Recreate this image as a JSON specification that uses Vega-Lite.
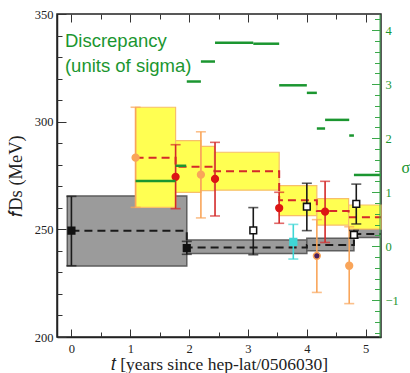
{
  "$schema": "https://vega.github.io/schema/vega-lite/v6.json",
  "width": 324,
  "height": 323,
  "autosize": {"type": "none"},
  "padding": {"left": 57, "top": 14, "right": 29, "bottom": 36},
  "config": {"view": {"stroke": "#222", "strokeWidth": 1.5}, "axis": {"grid": false}},
  "datasets": {
    "gray": [
      {"t0": -0.07, "t1": 1.96, "lo": 233.0, "hi": 265.5},
      {"t0": 1.96, "t1": 4.0, "lo": 238.8, "hi": 245.0},
      {"t0": 4.0, "t1": 4.8, "lo": 240.1, "hi": 245.9},
      {"t0": 4.8, "t1": 5.26, "lo": 246.2, "hi": 250.1}
    ],
    "yellow": [
      {"t0": 1.09, "t1": 1.77, "lo": 260.2, "hi": 306.7},
      {"t0": 1.77, "t1": 2.2, "lo": 267.2, "hi": 291.2},
      {"t0": 2.2, "t1": 2.43, "lo": 268.0, "hi": 288.5},
      {"t0": 2.43, "t1": 3.53, "lo": 268.2, "hi": 285.8},
      {"t0": 3.53, "t1": 4.17, "lo": 256.4, "hi": 270.3},
      {"t0": 4.17, "t1": 4.71, "lo": 252.0, "hi": 264.3},
      {"t0": 4.71, "t1": 5.26, "lo": 250.1, "hi": 261.3}
    ],
    "steps": [
      {"t": 0, "v": 249.4, "k": "lat"},
      {"t": 1.96, "v": 241.6, "k": "lat"},
      {"t": 4.0, "v": 242.7, "k": "lat"},
      {"t": 4.8, "v": 247.8, "k": "lat"},
      {"t": 5.26, "v": 247.8, "k": "lat"},
      {"t": 1.09, "v": 283.3, "k": "red"},
      {"t": 1.77, "v": 279.1, "k": "red"},
      {"t": 2.43, "v": 277.0, "k": "red"},
      {"t": 3.53, "v": 263.5, "k": "red"},
      {"t": 4.17, "v": 258.5, "k": "red"},
      {"t": 4.71, "v": 255.6, "k": "red"},
      {"t": 5.26, "v": 255.6, "k": "red"}
    ],
    "pts": [
      {"t": 0, "v": 249.4, "lo": 233.1, "hi": 265.3, "k": "lat"},
      {"t": 1.96, "v": 241.3, "lo": 238.4, "hi": 244.4, "k": "lat"},
      {"t": 1.09, "v": 283.3, "lo": 260.2, "hi": 306.7, "k": "orange"},
      {"t": 1.77, "v": 274.4, "lo": 259.6, "hi": 289.3, "k": "red"},
      {"t": 2.2, "v": 275.4, "lo": 255.3, "hi": 295.3, "k": "orange"},
      {"t": 2.44, "v": 273.4, "lo": 256.2, "hi": 290.4, "k": "red"},
      {"t": 3.09, "v": 249.5, "lo": 238.2, "hi": 260.1, "k": "open"},
      {"t": 3.53, "v": 259.9, "lo": 252.8, "hi": 267.2, "k": "red"},
      {"t": 3.77, "v": 244.2, "lo": 236.2, "hi": 252.3, "k": "cyan"},
      {"t": 4.0, "v": 260.5, "lo": 249.4, "hi": 271.4, "k": "open"},
      {"t": 4.17, "v": 237.7, "lo": 220.7, "hi": 254.5, "k": "orange2"},
      {"t": 4.31, "v": 258.2, "lo": 243.9, "hi": 272.3, "k": "red"},
      {"t": 4.72, "v": 233.1, "lo": 215.5, "hi": 251.2, "k": "orange"},
      {"t": 4.8, "v": 247.4, "lo": 245.9, "hi": 249.5, "k": "open"},
      {"t": 4.84, "v": 261.8, "lo": 252.5, "hi": 271.0, "k": "open"}
    ],
    "green": [
      {"t0": 1.09, "t1": 1.77, "s": 1.21},
      {"t0": 1.77, "t1": 1.95, "s": 1.49},
      {"t0": 1.96, "t1": 2.2, "s": 3.05},
      {"t0": 2.2, "t1": 2.44, "s": 3.42},
      {"t0": 2.44, "t1": 3.09, "s": 3.77},
      {"t0": 3.09, "t1": 3.53, "s": 3.75},
      {"t0": 3.53, "t1": 4.0, "s": 2.98},
      {"t0": 4.0, "t1": 4.17, "s": 2.84},
      {"t0": 4.17, "t1": 4.31, "s": 2.18},
      {"t0": 4.31, "t1": 4.72, "s": 2.34},
      {"t0": 4.72, "t1": 4.8, "s": 2.05},
      {"t0": 4.8, "t1": 5.26, "s": 1.32}
    ],
    "note": [
      {"t": -0.11, "v": 334.5, "label": "Discrepancy\n(units of sigma)"}
    ]
  },
  "layer": [
    {
      "layer": [
        {
          "data": {"name": "gray"},
          "mark": {"type": "rect", "fill": "#9b9b9b", "stroke": "#5e5e5e", "strokeWidth": 1.5},
          "encoding": {
            "x": {"field": "t0", "type": "quantitative",
              "scale": {"domain": [-0.245, 5.26], "nice": false, "zero": false},
              "axis": {"orient": "bottom", "values": [0, 1, 2, 3, 4, 5],
                "format": "d", "tickSize": -8,
                "tickColor": "#333", "domainColor": "#222", "domainWidth": 1.5, "zindex": 1,
                "labelFont": "Liberation Serif", "labelFontSize": 12.5, "labelColor": "#222", "labelPadding": 13, "labelFlush": false,
                "title": "𝑡 [years since hep-lat/0506030]", "titleFont": "Liberation Serif", "titleFontSize": 17.5,
                "titleFontWeight": "normal", "titleColor": "#222", "titlePadding": 1}},
            "x2": {"field": "t1"},
            "y": {"field": "lo", "type": "quantitative",
              "scale": {"domain": [200, 350], "nice": false, "zero": false},
              "axis": {"orient": "left", "values": [200, 250, 300, 350],
                "format": "d", "tickSize": -9,
                "tickColor": "#333", "domainColor": "#222", "domainWidth": 1.5, "zindex": 1,
                "labelFont": "Liberation Serif", "labelFontSize": 12.5, "labelColor": "#222", "labelPadding": 13, "labelFlush": false,
                "title": "𝑓Ds (MeV)", "titleFont": "Liberation Serif", "titleFontSize": 18.5,
                "titleFontWeight": "normal", "titleColor": "#222", "titlePadding": 9}},
            "y2": {"field": "hi"}
          }
        },
        {
          "data": {"name": "yellow"},
          "mark": {"type": "rect", "fill": "#ffff52", "stroke": "#f7bf6a", "strokeWidth": 1.2},
          "encoding": {
            "x": {"field": "t0", "type": "quantitative",
              "axis": {"orient": "bottom", "values": [0.5, 1.5, 2.5, 3.5, 4.5], "labels": false, "title": null,
                "domain": false, "tickSize": -5, "tickColor": "#333", "zindex": 1}},
            "x2": {"field": "t1"},
            "y": {"field": "lo", "type": "quantitative",
              "axis": {"orient": "left", "values": [210, 220, 230, 240, 260, 270, 280, 290, 310, 320, 330, 340], "labels": false, "title": null,
                "domain": false, "tickSize": -5, "tickColor": "#333", "zindex": 1}},
            "y2": {"field": "hi"}
          }
        },
        {
          "data": {"name": "steps"},
          "mark": {"type": "line", "interpolate": "step-after", "strokeDash": [8, 5], "strokeWidth": 2, "clip": true},
          "encoding": {
            "x": {"field": "t", "type": "quantitative", "axis": null},
            "y": {"field": "v", "type": "quantitative", "axis": null},
            "color": {"field": "k", "type": "nominal", "legend": null,
              "scale": {"domain": ["lat", "open", "red", "orange", "orange2", "cyan"],
                "range": ["#1a1a1a", "#1a1a1a", "#d42a2a", "#f9a55a", "#f9a55a", "#3fd6d6"]}}
          }
        },
        {
          "data": {"name": "note"},
          "mark": {"type": "text", "align": "left", "baseline": "alphabetic", "font": "Liberation Sans",
            "fontSize": 18.5, "lineHeight": 24.5, "lineBreak": "\n", "color": "#1b9630"},
          "encoding": {
            "x": {"field": "t", "type": "quantitative", "axis": null},
            "y": {"field": "v", "type": "quantitative", "axis": null},
            "text": {"field": "label"}
          }
        },
        {
          "data": {"name": "pts"},
          "mark": {"type": "rule", "strokeWidth": 1.6},
          "encoding": {
            "x": {"field": "t", "type": "quantitative", "axis": null},
            "y": {"field": "lo", "type": "quantitative", "axis": null},
            "y2": {"field": "hi"},
            "color": {"field": "k", "type": "nominal", "legend": null,
              "scale": {"domain": ["lat", "open", "red", "orange", "orange2", "cyan"],
                "range": ["#1a1a1a", "#1a1a1a", "#d42a2a", "#f9a55a", "#f9a55a", "#3fd6d6"]}}
          }
        },
        {
          "data": {"name": "pts"},
          "mark": {"type": "tick", "orient": "horizontal", "size": 10, "thickness": 1.6},
          "encoding": {
            "x": {"field": "t", "type": "quantitative", "axis": null},
            "y": {"field": "lo", "type": "quantitative", "axis": null},
            "color": {"field": "k", "type": "nominal", "legend": null,
              "scale": {"domain": ["lat", "open", "red", "orange", "orange2", "cyan"],
                "range": ["#1a1a1a", "#1a1a1a", "#d42a2a", "#f9a55a", "#f9a55a", "#3fd6d6"]}}
          }
        },
        {
          "data": {"name": "pts"},
          "mark": {"type": "tick", "orient": "horizontal", "size": 10, "thickness": 1.6},
          "encoding": {
            "x": {"field": "t", "type": "quantitative", "axis": null},
            "y": {"field": "hi", "type": "quantitative", "axis": null},
            "color": {"field": "k", "type": "nominal", "legend": null,
              "scale": {"domain": ["lat", "open", "red", "orange", "orange2", "cyan"],
                "range": ["#1a1a1a", "#1a1a1a", "#d42a2a", "#f9a55a", "#f9a55a", "#3fd6d6"]}}
          }
        },
        {
          "data": {"name": "pts"},
          "mark": {"type": "point", "size": 45, "opacity": 1, "fillOpacity": 1},
          "encoding": {
            "x": {"field": "t", "type": "quantitative", "axis": null},
            "y": {"field": "v", "type": "quantitative", "axis": null},
            "shape": {"field": "k", "type": "nominal", "legend": null,
              "scale": {"domain": ["lat", "open", "red", "orange", "orange2", "cyan"],
                "range": ["square", "square", "circle", "circle", "circle", "square"]}},
            "fill": {"field": "k", "type": "nominal", "legend": null,
              "scale": {"domain": ["lat", "open", "red", "orange", "orange2", "cyan"],
                "range": ["#111111", "#ffffff", "#dd1515", "#f9a55a", "#4a1f5e", "#3fd6d6"]}},
            "stroke": {"field": "k", "type": "nominal", "legend": null,
              "scale": {"domain": ["lat", "open", "red", "orange", "orange2", "cyan"],
                "range": ["#111111", "#111111", "#dd1515", "#f9a55a", "#f9a55a", "#3fd6d6"]}},
            "strokeWidth": {"field": "k", "type": "nominal", "legend": null,
              "scale": {"domain": ["lat", "open", "red", "orange", "orange2", "cyan"],
                "range": [1.5, 1.6, 1, 1, 2.5, 1]}}
          }
        }
      ],
      "resolve": {"axis": {"x": "independent", "y": "independent"}}
    },
    {
      "layer": [
        {
          "data": {"name": "green"},
          "mark": {"type": "rule", "color": "#1b9630", "strokeWidth": 2.5},
          "encoding": {
            "x": {"field": "t0", "type": "quantitative",
              "scale": {"domain": [-0.245, 5.26], "nice": false, "zero": false},
              "axis": {"orient": "top", "values": [0, 1, 2, 3, 4, 5],
                "labels": false, "title": null, "domain": false, "zindex": 1,
                "tickSize": -8, "tickColor": "#333"}},
            "x2": {"field": "t1"},
            "y": {"field": "s", "type": "quantitative",
              "scale": {"domain": [-1.68, 4.3], "nice": false, "zero": false},
              "axis": {"orient": "right", "values": [-1, 0, 1, 2, 3, 4],
                "format": "d", "tickSize": -8,
                "tickColor": "#3aa84a", "domainColor": "#3aa84a", "domainWidth": 1, "offset": -1.5, "zindex": 1,
                "labelFont": "Liberation Serif", "labelFontSize": 12.5, "labelColor": "#1b9630", "labelPadding": 13.5, "labelFlush": false,
                "title": "σ", "titleAngle": 0, "titleFont": "Liberation Serif", "titleFontSize": 16,
                "titleFontWeight": "normal", "titleColor": "#1b9630", "titlePadding": 7}}
          }
        },
        {
          "data": {"name": "green"},
          "mark": {"type": "rule", "strokeOpacity": 0},
          "encoding": {
            "x": {"field": "t0", "type": "quantitative",
              "axis": {"orient": "top", "values": [0.5, 1.5, 2.5, 3.5, 4.5],
                "labels": false, "title": null, "domain": false, "zindex": 1,
                "tickSize": -5, "tickColor": "#333"}},
            "x2": {"field": "t1"},
            "y": {"field": "s", "type": "quantitative",
              "axis": {"orient": "right", "values": [-1.6, -1.4, -1.2, -0.8, -0.6, -0.4, -0.2, 0.2, 0.4, 0.6, 0.8, 1.2, 1.4, 1.6, 1.8, 2.2, 2.4, 2.6, 2.8, 3.2, 3.4, 3.6, 3.8, 4.2],
                "labels": false, "title": null, "domain": false, "offset": -1.5, "zindex": 1,
                "tickSize": -5, "tickColor": "#3aa84a"}}
          }
        }
      ],
      "resolve": {"axis": {"x": "independent", "y": "independent"}}
    }
  ],
  "resolve": {"scale": {"y": "independent"}, "axis": {"x": "independent"}}
}
